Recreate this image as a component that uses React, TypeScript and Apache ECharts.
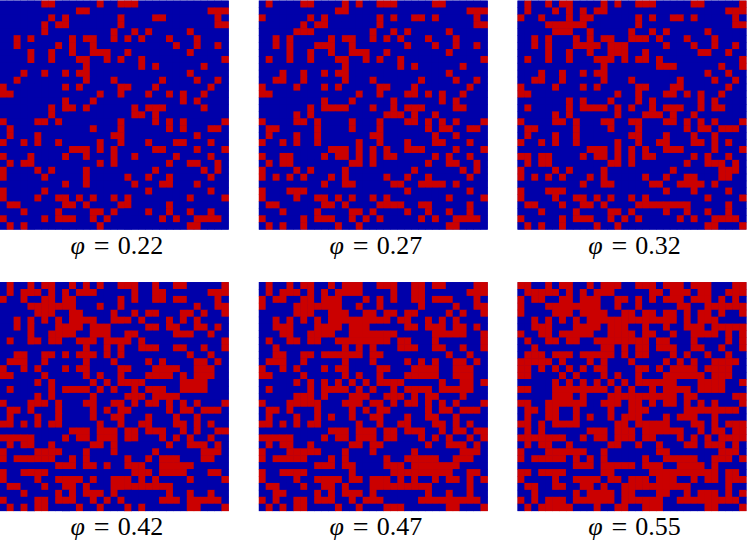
import React, { useEffect, useRef } from "react";
import * as echarts from "echarts";

const SIZE = 33;
const labels = ["0.22", "0.27", "0.32", "0.42", "0.47", "0.55"];

const red022: number[][] = [
[6,7,14,17,18,19],[11,12,30,31,32],[7,9,17,22,23,31],[6,8,9,17,31,32],[6,16,19,21,27],
[2,4,10,12,13,16,18,20,24,28],[2,8,10,13,25,28,31],[4,7,10,13,14,15,18,27],[4,7,11,12,15,17,20,32],[12,20,22,29],
[3,6,9,11,12,27],[2,12,16,23,28,31],[0,9,11,17,18,22,30],[0,1,14,17,21,24,26,29],[9,13,26,28],
[7,9,10,12,19,21,22,23,29],[7,19,20,22],[0,5,6,8,17,22,24,26,32],[1,13,17,24,26,30,31],[1,5,16,17,28],
[0,3,5,8,14,17,21,25,26,30],[10,11,12,14,16,22,23,28,32],[0,4,9,12,16,19,25,30],[1,3,4,14,16,24,27,28,31],[0,5,7,12,22,29,31],
[0,6,12,18,21,24,30],[9,12,19,23,24,28],[0,6,21,30],[0,5,8,9,11,13,16,18,27,32],[1,2,9,10,12,17,18,24],
[3,8,13,14,16,21,24,27,30],[0,6,8,9,10,13,15,23,25,28,29,30,31],[1,3,14,27,28],
];

const red027: number[][] = [
[1,6,7,12,14,17,18,19,25,26],[11,12,30,31,32],[0,7,9,17,19,22,23,25,31],[6,8,9,17,31,32],[5,6,7,16,19,21,27],
[2,4,10,12,13,16,18,20,24,28],[2,4,8,9,10,13,21,25,28,31],[4,7,10,13,14,15,18,27],[1,4,7,11,12,15,17,20,32],[12,20,22,29],
[3,6,9,11,12,27],[2,3,6,12,16,23,28,31],[0,5,9,11,17,18,22,30],[0,1,14,17,21,22,24,26,29],[9,13,19,26,28],
[7,9,10,11,12,16,19,21,22,23,28,29],[5,7,18,19,20,22,25],[0,5,6,8,13,17,21,22,24,26,28,32],[1,2,8,13,17,24,26,27,30,31],[1,5,8,16,17,25,28],
[0,3,5,8,14,17,21,25,26,30],[10,11,12,14,16,18,21,22,23,28,32],[0,3,4,9,11,12,14,16,18,19,25,27,30],[1,3,4,13,14,16,24,27,28,31],[0,5,7,12,22,29,31],
[0,2,4,6,10,12,18,21,24,30],[9,12,13,19,20,23,24,25,26,28],[0,4,5,6,21,30],[0,5,8,9,11,13,16,18,27,32],[1,2,9,10,12,17,18,19,20,23,24,30],
[3,8,13,14,16,21,24,27,30],[0,6,8,9,10,13,15,17,23,25,28,29,30,31],[1,3,6,11,14,27,28],
];

const red032: number[][] = [
[1,4,6,7,12,14,17,18,19,25,26,32],[1,5,7,9,11,12,30,31,32],[0,3,7,9,10,17,19,22,23,25,31],[4,5,6,7,8,9,17,31,32],[5,6,7,10,16,19,21,27],
[2,4,8,10,12,13,16,17,18,20,24,28],[2,4,8,9,10,11,13,14,15,21,25,28,31],[4,7,10,13,14,15,18,26,27,30],[1,4,7,11,12,13,15,17,18,20,32],[12,20,21,22,29,32],
[3,6,9,11,12,27,30],[2,3,6,12,16,23,28,31],[0,5,9,11,17,18,22,23,30],[0,1,14,17,21,22,24,26,29],[7,9,13,17,19,26,28],
[1,7,9,10,11,12,14,16,19,21,22,23,26,28,29],[5,7,14,18,19,20,22,25],[0,5,6,8,12,13,16,17,21,22,24,26,28,32],[1,2,8,13,17,24,26,27,29,30,31],[1,5,8,16,17,21,25,28],
[0,3,5,8,14,17,20,21,25,26,28,30],[10,11,12,14,16,18,21,22,23,28,32],[0,1,3,4,9,11,12,14,16,18,19,25,27,30],[1,3,4,13,14,16,24,27,28,29,31],[0,5,7,12,22,29,30,31],
[0,2,4,6,10,12,18,21,24,25,29,30],[9,12,13,19,20,23,24,25,26,28],[0,4,5,6,21,25,30],[0,5,8,9,11,13,16,18,27,32],[1,2,6,9,10,12,17,18,19,20,21,22,23,24,30],
[3,8,13,14,16,21,24,27,30],[0,6,8,9,10,13,15,17,23,25,28,29,30,31],[1,3,6,11,14,27,28,32],
];

const red042: number[][] = [
[1,4,6,7,10,12,14,17,18,19,22,25,26,32],[1,3,4,5,7,9,11,12,13,19,22,23,30,31,32],[0,3,6,7,9,10,17,19,22,23,25,26,31],[4,5,6,7,8,9,10,14,17,28,31,32],[5,6,7,10,11,16,19,21,22,26,27,29,32],
[2,4,6,8,10,11,12,13,16,17,18,20,24,26,28],[2,4,8,9,10,11,13,14,15,21,22,24,25,28,29,31],[4,7,8,9,10,13,14,15,18,19,25,26,27,30],[1,4,5,7,8,11,12,13,15,16,17,18,20,32],[12,15,17,20,21,22,25,26,29,32],
[2,3,6,7,9,11,12,13,15,17,27,30],[1,2,3,6,12,16,21,23,28,29,31],[0,3,5,9,11,12,17,18,22,23,24,25,28,29,30],[0,1,6,12,14,17,21,22,23,24,26,28,29,30],[5,7,13,15,17,18,19,20,26,27,28,29],
[1,7,9,10,11,12,14,16,19,21,22,23,26,27,28,29],[5,7,13,18,19,20,22,23,24,25],[0,4,5,6,8,12,13,16,17,19,21,22,24,26,28,32],[1,2,4,8,13,15,17,18,24,26,27,29,30,31],[1,5,8,13,16,17,21,25,28],
[0,1,3,5,7,8,14,17,20,21,25,26,28,30],[10,11,12,14,15,16,18,19,21,22,23,26,28,31,32],[0,1,2,3,4,9,11,12,14,15,16,18,19,23,25,27,30],[1,3,4,7,13,14,16,24,27,28,29,31],[0,5,6,7,8,12,16,22,29,30,31],
[0,2,3,4,5,6,7,10,12,18,21,23,24,25,29,30],[8,9,10,12,13,15,18,19,20,23,24,25,26,27],[0,3,4,5,6,19,20,21,23,24,25,26,30,31],[0,5,8,9,10,11,13,16,17,18,20,22,27,32],[1,2,6,9,10,12,16,17,18,19,20,21,22,23,24],
[3,8,10,12,13,14,16,24,27,30],[0,5,6,8,9,10,13,15,17,23,24,25,27,28,29,30,31],[1,3,5,6,11,14,18,20,27,28,32],
];

const red047: number[][] = [
[1,4,6,7,10,12,13,14,17,18,19,22,23,25,26,31,32],[1,3,4,5,7,9,11,12,13,14,19,22,23,30,31,32],[0,2,3,6,7,9,10,11,15,17,19,22,23,25,26,27,31],[0,5,6,7,8,9,10,11,14,17,23,28,31,32],[5,6,7,10,11,12,15,16,18,19,21,22,27,29,32],
[2,4,6,8,10,11,12,13,14,15,16,17,18,20,21,24,26,28],[2,3,4,8,9,10,11,13,14,15,21,22,24,25,26,28,29,31],[3,4,7,8,9,10,13,14,15,16,17,18,19,25,26,27,28,29,32],[1,4,5,7,8,11,12,13,14,15,16,17,18,20,21,25,32],[2,12,14,16,20,21,22,25,26,29,32],
[2,3,6,7,9,10,11,12,13,14,16,17,27,30],[1,2,3,6,12,16,21,23,25,28,29,31],[0,3,5,9,11,12,17,18,22,23,24,25,28,29,30],[0,1,6,12,14,17,21,22,23,24,25,28,29,30],[5,7,9,11,13,15,17,18,19,20,26,29,30,32],
[1,7,9,10,11,12,14,16,19,21,22,23,24,26,27,28,29,30],[5,6,7,9,13,14,15,18,19,20,22,24,25,29],[0,4,5,6,7,8,12,13,14,16,17,19,21,22,24,26,28,32],[1,2,4,8,13,15,17,18,24,26,27,29,30,31],[1,5,8,10,13,16,17,21,24,25,28],
[0,1,3,5,7,8,14,17,20,21,25,26,28,30],[10,11,12,14,15,16,18,19,21,22,23,26,28,29,31,32],[0,1,2,3,4,9,11,12,14,15,16,18,19,23,25,27,30,32],[1,3,4,7,13,14,16,17,24,27,28,29,31],[0,4,5,6,7,8,12,16,22,29,30,31],
[0,2,3,4,5,6,10,12,18,21,22,23,24,25,28,29,30],[8,9,10,12,13,18,19,20,22,23,24,25,26,27,28],[0,3,4,5,6,13,19,20,21,22,23,24,25,26,27,30,31],[0,5,8,9,10,11,13,14,16,17,18,20,22,25,27,28,30,32],[1,2,6,9,10,12,16,17,18,19,20,21,22,23,24,30],
[2,3,8,10,12,13,14,16,24,27,30],[0,2,5,6,8,9,10,13,15,16,17,23,24,25,26,27,28,29,30,31],[1,3,5,6,11,14,18,19,20,27,28,32],
];

const blue055: number[][] = [
[2,3,5,8,9,11,15,16,20,24,28,29,30],[0,6,8,10,14,15,16,17,18,21,25,28,29],[1,4,5,8,12,13,16,18,20,24,28,30,32],[1,2,3,12,13,15,16,18,19,20,21,22,25,26],[1,2,3,4,8,13,14,17,20,23,25,28,30,31],
[0,1,3,5,7,9,23,25,29,30,31,32],[0,1,5,6,7,12,16,17,19,20,22,23,27],[1,2,5,11,12,17,20,21,23,24,29,31],[0,2,3,6,9,10,19,22,23,24,26,27,28,29,31],[0,1,3,4,5,6,7,8,9,10,11,14,16,19,23,24,27,28,30,31],
[0,4,8,14,16,19,20,21,23,25,26,28,29,31,32],[5,7,8,9,11,13,14,15,17,18,19,20,22,24,26,27,32],[2,4,6,8,10,13,14,15,16,19,21,26,31,32],[2,3,4,5,7,9,10,11,13,15,16,18,19,20,27,31,32],[0,1,2,3,4,6,8,10,12,14,16,23,24,25,30,31],
[2,3,4,13,15,17,18,20,25,30,31,32],[0,1,2,3,4,8,10,11,12,23,26,27,28,29,30],[2,3,10,11,15,18,20,23,25,27,29,30,31],[0,3,6,7,9,10,11,12,14,15,19,20,21,22,23,32],[0,2,3,6,7,9,11,12,14,18,19,20,22,26,27,29,30,31,32],
[2,4,9,10,11,12,13,16,22,23,24,27,29],[0,2,4,5,6,7,8,9,13,17,24,25,27,30],[7,8,10,13,17,20,21,22,24,26,28],[0,2,5,6,8,9,10,11,12,15,16,18,19,21,22,23,26,30,32],[1,2,3,10,11,13,14,15,16,17,18,19,22,23,24,25,26,27,28,32],
[1,7,9,11,13,14,15,16,17,19,20,26,27,31],[0,1,2,3,4,5,6,7,11,17,21,22,27,29,30,31,32],[2,7,8,9,10,11,14,15,16,17,18,29,32],[1,2,3,4,6,7,12,15,19,23,24,26,29],[0,3,4,7,8,11,13,14,25,26,27,28,29,31,32],
[0,1,3,4,5,6,7,9,14,17,18,19,22,23,25,29,31],[1,3,7,14,21,22,32],[0,2,8,9,10,12,13,16,17,21,22,23,24,25,26,29,30,31],
];

const BLUE = "#0000aa";
const RED = "#cb0000";
const indices = Array.from({ length: SIZE }, (_, i) => String(i));

const redCells = (rows: number[][]) =>
  rows.flatMap((row, y) => indices.map((_, x) => [x, y, row.includes(x) ? 1 : 0]));
const blueCells = (rows: number[][]) =>
  rows.flatMap((row, y) => indices.map((_, x) => [x, y, row.includes(x) ? 0 : 1]));

const panelData = [
  redCells(red022), redCells(red027), redCells(red032),
  redCells(red042), redCells(red047), blueCells(blue055),
];

const lefts = [0, 259, 517.7];
const tops = [0.8, 282.3];
const SIDE = 228.6;

export default function App() {
  const ref = useRef<HTMLDivElement>(null);
  useEffect(() => {
    document.body.style.margin = "0";
    const chart = echarts.init(ref.current!, undefined, { renderer: "svg" });
    const pos = panelData.map((_, i) => ({ left: lefts[i % 3], top: tops[Math.floor(i / 3)] }));
    const text = { fontFamily: "Liberation Serif", fontSize: 26, lineHeight: 24, color: "#000" };
    chart.setOption({
      animation: false,
      backgroundColor: "#ffffff",
      visualMap: {
        show: false, type: "piecewise", seriesIndex: [0, 1, 2, 3, 4, 5],
        pieces: [{ value: 0, color: BLUE }, { value: 1, color: RED }],
      },
      grid: pos.map((p) => ({
        left: p.left, top: p.top, width: SIDE, height: SIDE, outerBoundsMode: "none",
        show: true, backgroundColor: BLUE, borderWidth: 0,
      })),
      xAxis: pos.map((_, i) => ({
        type: "category", gridIndex: i, data: indices,
        axisLine: { show: false }, axisTick: { show: false }, axisLabel: { show: false }, splitLine: { show: false },
        name: `{p|φ}{e|=}{n|${labels[i]}}`, nameLocation: "middle", nameGap: 4,
        nameTextStyle: {
          ...text,
          rich: {
            p: { ...text, fontStyle: "italic", padding: [0, 0, 0, 5] },
            e: { ...text, fontSize: 28, padding: [0, 8, 0, 9] },
            n: { ...text },
          },
        },
      })),
      yAxis: pos.map((_, i) => ({
        type: "category", gridIndex: i, data: indices, inverse: true,
        axisLine: { show: false }, axisTick: { show: false }, axisLabel: { show: false }, splitLine: { show: false },
      })),
      series: panelData.map((data, i) => ({
        type: "heatmap", xAxisIndex: i, yAxisIndex: i, data,
        progressive: 0, itemStyle: { borderWidth: 0 }, emphasis: { disabled: true },
      })),
    });
    return () => chart.dispose();
  }, []);
  return <div ref={ref} style={{ width: 747, height: 541 }} />;
}
